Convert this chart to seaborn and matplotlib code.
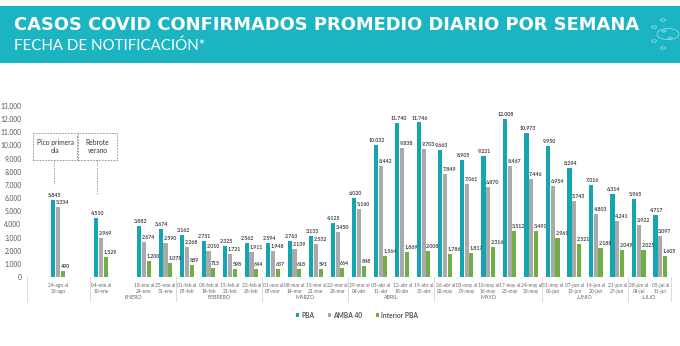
import matplotlib
matplotlib.use("Agg")
import matplotlib.pyplot as plt
import matplotlib.transforms as mtransforms
from matplotlib.patches import Rectangle, Circle
import pandas as pd
import seaborn as sns

# ---------------- data ----------------
weeks = [
    "24-ago al\n30-ago", "04-ene al\n10-ene", "18-ene al\n24-ene", "25-ene al\n31-ene",
    "01-feb al\n07-feb", "08-feb al\n14-feb", "15-feb al\n21-feb", "22-feb al\n28-feb",
    "01-mar al\n07-mar", "08-mar al\n14-mar", "15-mar al\n21-mar", "22-mar al\n28-mar",
    "29-mar al\n04-abr", "05-abr al\n11-abr", "12-abr al\n18-abr", "19-abr al\n25-abr",
    "26-abr al\n02-may", "03-may al\n09-may", "10-may al\n16-may", "17-may al\n23-may",
    "24-may al\n30-may", "31-may al\n06-jun", "07-jun al\n13-jun", "14-jun al\n20-jun",
    "21-jun al\n27-jun", "28-jun al\n04-jul", "05-jul al\n11-jul",
]
pba = [5845, 4510, 3882, 3674, 3162, 2731, 2325, 2562, 2594, 2763, 3133, 4125, 6020,
       10032, 11740, 11746, 9663, 8905, 9221, 12008, 10973, 9950, 8294, 7016, 6314, 5965, 4717]
amba40 = [5334, 2969, 2674, 2590, 2268, 2010, 1721, 1911, 1948, 2139, 2532, 3450, 5160,
          8442, 9838, 9703, 7849, 7061, 6870, 8467, 7446, 6954, 5743, 4803, 4241, 3922, 3097]
interior = [490, 1529, 1200, 1078, 889, 715, 598, 644, 637, 618, 591, 664, 848,
            1564, 1869, 2008, 1786, 1817, 2316, 3512, 3491, 2961, 2521, 2188, 2049, 2025, 1605]
series_names = ["PBA", "AMBA 40", "Interior PBA"]
months = ["ENERO", "FEBRERO", "MARZO", "ABRIL", "MAYO", "JUNIO", "JULIO"]
# month spans as (first week index, last week index) in `weeks`
month_weeks = [(1, 3), (4, 7), (8, 11), (12, 15), (16, 20), (21, 24), (25, 26)]
yticks = list(range(0, 13001, 1000))

colors = ["#15a5b1", "#aaaaaa", "#72ae46"]
teal_header = "#1bb4c2"

plt.rcParams["font.family"] = ["Lato", "DejaVu Sans"]

# ---------------- frame ----------------
df = pd.DataFrame({
    "week": weeks * 3,
    "value": pba + amba40 + interior,
    "series": [s for s in series_names for _ in weeks],
})
gap1, gap2 = " ", "  "
order = [weeks[0], gap1, weeks[1], gap2] + weeks[2:]
pos = {w: order.index(w) for w in weeks}

fig = plt.figure(figsize=(6.8, 3.46), dpi=100)
fig.patch.set_facecolor("white")
W, H = 680, 346

def fx(px):
    return px / W

def fy(py):
    return 1 - py / H

# header band
fig.patches.append(Rectangle((0, fy(63)), 1, (63 - 6) / H, transform=fig.transFigure,
                             facecolor=teal_header, edgecolor="none", zorder=0))
title = fig.text(fx(14), fy(29.5), "CASOS COVID CONFIRMADOS PROMEDIO DIARIO POR SEMANA",
                 color="white", fontsize=11, fontweight="bold", family="DejaVu Sans",
                 va="baseline", ha="left")
sub = fig.text(fx(14), fy(50.5), "FECHA DE NOTIFICACIÓN*", color="white", fontsize=10.5,
               family="Lato", va="baseline", ha="left")

# fit title widths to reference
fig.canvas.draw()
r = fig.canvas.get_renderer()
for t, target in ((title, 623), (sub, 192)):
    w = t.get_window_extent(r).width
    t.set_fontsize(t.get_fontsize() * target / w)

# virus decoration
light = "#7fd6de"
for dx, dy, rr in [(0, 0, 11), (-14, 7, 2.5), (-14, -7, 2.5), (-5, 14, 2.5), (-5, -14, 2.5),
                   (-4, 3, 2), (2, -4, 2)]:
    c = Circle(((668 + dx) / W, (H - 34 + dy) / H), rr / W, transform=fig.transFigure,
               facecolor="none", edgecolor=light, lw=0.7, zorder=1)
    fig.patches.append(c)

# ---------------- axes ----------------
ax = fig.add_axes([fx(27), fy(277), (671 - 27) / W, (277 - 106) / H])
sns.barplot(data=df, x="week", y="value", hue="series", order=order,
            hue_order=series_names, palette=colors, saturation=1,
            width=0.66, gap=0.12, legend=False, ax=ax)
ax.set_xlim(-1.44, 28.5)
ax.set_ylim(0, 13000)
for s in ax.spines.values():
    s.set_visible(False)
ax.set_xlabel("")
ax.set_ylabel("")
ax.set_yticks(yticks)
ax.set_yticklabels([f"{v:,}".replace(",", ".") for v in yticks])
ax.tick_params(axis="y", length=0, pad=4, labelsize=4.8, labelcolor="#555555")
ax.set_xticks([pos[w] for w in weeks])
ax.set_xticklabels(weeks, fontsize=3.5, color="#666666", linespacing=1.25)
ax.tick_params(axis="x", length=0, pad=4)

# value labels
label_kw = dict(fontsize=3.75, color="#444444", fontweight="bold", va="bottom")
for ci, cont in enumerate(ax.containers):
    for patch in cont.patches:
        h = patch.get_height()
        if not h or h != h:
            continue
        txt = f"{int(round(h)):,}".replace(",", ".")
        cx = patch.get_x() + patch.get_width() / 2
        if ci == 0:
            ax.text(cx + 0.05, h + 150, txt, ha="center", **label_kw)
        else:
            ax.text(patch.get_x(), h + 150, txt, ha="left", **label_kw)

# baseline and month table lines
line_c = "#d5d5d5"
ax.axhline(0, color=line_c, lw=0.6, zorder=0)
trans = mtransforms.blended_transform_factory(ax.transData, ax.transAxes)
seps = [-1.44, 1.5, 5.5, 9.5, 13.5, 17.5, 22.5, 26.5, 28.5]
for s in seps:
    ax.plot([s, s], [0, -0.14], transform=trans, color=line_c, lw=0.6, clip_on=False)
for name, (a, b) in zip(months, month_weeks):
    xm = (pos[weeks[a]] + pos[weeks[b]]) / 2
    ax.text(xm, -0.117, name, transform=trans, ha="center", va="center",
            fontsize=3.8, color="#666666")

# annotation boxes
box_ec = "#888888"
for (x0, x1, txt, lx, ly) in [(-1.16, 0.88, "Pico primera\nola", -0.17, 7000),
                              (0.93, 2.74, "Rebrote\nverano", 1.8, 6230)]:
    ax.add_patch(Rectangle((x0, 8895), x1 - x0, 10947 - 8895, facecolor="white",
                           edgecolor=box_ec, lw=0.6, ls=(0, (2, 1.5)), clip_on=False))
    ax.text((x0 + x1) / 2, (8895 + 10947) / 2, txt, ha="center", va="center",
            fontsize=4.8, color="#333333", linespacing=1.3)
    ax.plot([lx, lx], [8895, ly], color=box_ec, lw=0.6, ls=(0, (1.5, 1.5)))

# legend
handles = [Rectangle((0, 0), 1, 1, facecolor=c, edgecolor="none") for c in colors]
leg = fig.legend(handles, series_names, loc="center", bbox_to_anchor=(fx(357), fy(315)),
                 ncol=3, frameon=False, handlelength=0.5, handleheight=0.5,
                 handletextpad=0.3, columnspacing=2.0, fontsize=4.8)
for t in leg.get_texts():
    t.set_color("#555555")
    t.set_fontweight("bold")

fig.savefig("out.png", dpi=100, facecolor="white")
